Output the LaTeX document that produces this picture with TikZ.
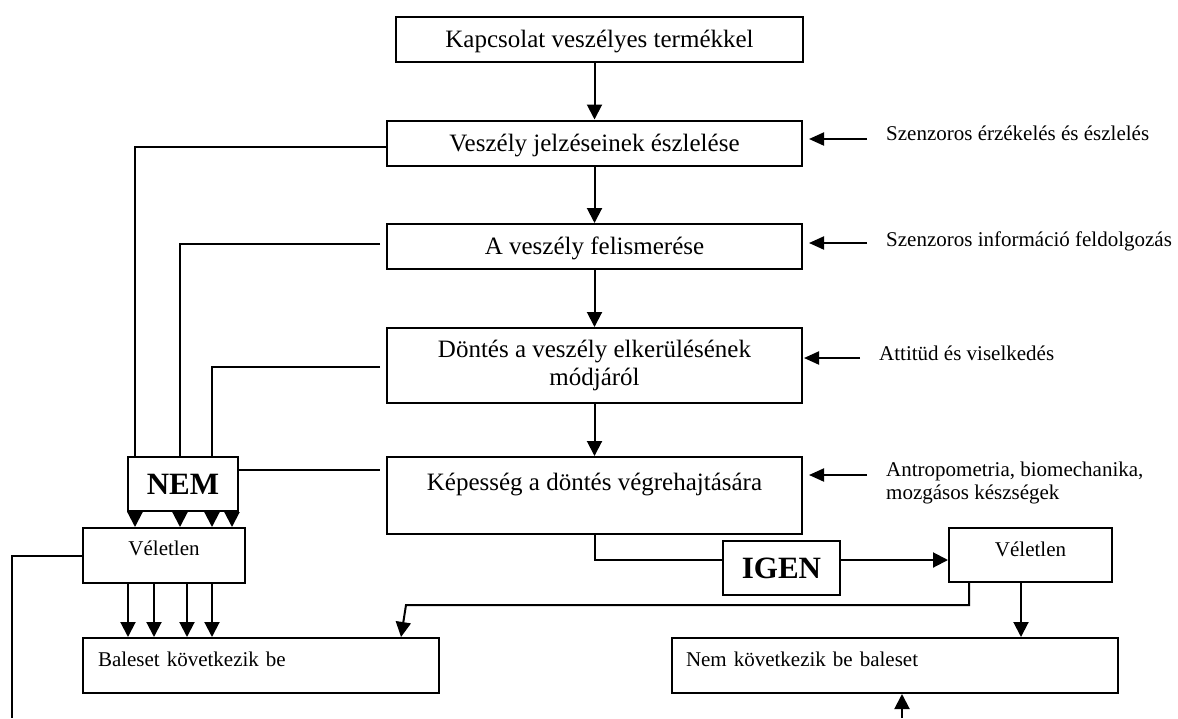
\documentclass[tikz,border=0pt]{standalone}
\usepackage{fontspec}
\setmainfont{Liberation Serif}
\usetikzlibrary{arrows.meta}
\newcommand\mainsz{\fontsize{25}{28}\selectfont}
\newcommand\sidesz{\fontsize{21}{23}\selectfont}
\newcommand\boldsz{\fontsize{31}{34}\selectfont\bfseries}

\begin{document}
\begin{tikzpicture}[x=1pt,y=-1pt,
  line/.style={line width=2pt},
  arr/.style={line, -{Triangle[length=15pt,width=15pt]}},
  sidearr/.style={line, -{Triangle[length=15pt,width=13pt]}},
  box/.style={draw, line width=2pt, inner sep=0pt, anchor=north},
  stage/.style={box, font=\mainsz, minimum width=415pt, text height=30.8pt, text depth=14.2pt},
  small/.style={box, font=\sidesz},
  tag/.style={box, font=\boldsz, text height=37.3pt, text depth=16.7pt},
  side/.style={font=\sidesz, anchor=base west, inner sep=0pt, align=left},
]
\useasboundingbox (0,0) rectangle (1178,718);

% main chain of stages
\node[stage, minimum width=407pt] (B1) at (599.5,16) {Kapcsolat veszélyes termékkel};
\node[stage] (B2) at (594.5,119.5) {Veszély jelzéseinek észlelése};
\node[stage] (B3) at (594.5,223) {A veszély felismerése};
\node[box, font=\mainsz, align=center, minimum width=415pt, minimum height=75pt] (B4) at (594.5,327)
  {Döntés a veszély elkerülésének\\módjáról};
\node[box, font=\mainsz, minimum width=415pt, text height=33pt, text depth=44pt] (B5) at (594.5,456)
  {Képesség a döntés végrehajtására};

% decision tags
\node[tag, minimum width=110pt] (NEM) at (183,456) {NEM};
\node[tag, minimum width=117pt] (IGEN) at (781.5,540) {IGEN};

% chance boxes and outcomes
\node[small, minimum width=162pt, text height=27pt, text depth=28pt] (VL) at (164,527) {Véletlen};
\node[small, minimum width=163pt, text height=28pt, text depth=26pt] (VR) at (1030.5,527) {Véletlen};
\node[small, text width=326pt, inner xsep=15pt, align=left, text height=28.5pt, text depth=26.5pt] (BL) at (261,637)
  {Baleset következik be};
\node[small, text width=418pt, inner xsep=14pt, align=left, text height=28pt, text depth=27pt] (NK) at (895,637)
  {Nem következik be baleset};

% influencing factors on the right
\node[side] (S1) at (886,140) {Szenzoros érzékelés és észlelés};
\node[side] (S2) at (886,246.5) {Szenzoros információ feldolgozás};
\node[side] (S3) at (879,360) {Attitüd és viselkedés};
\node[side] (S4) at (886,499) {Antropometria, biomechanika,\\mozgásos készségek};

\coordinate (a1) at (867,139);
\coordinate (a2) at (867,243);
\coordinate (a3) at (860,358);
\coordinate (a4) at (867,475);
\draw[sidearr, shorten >=6pt] (a1) -- (a1 -| B2.east);
\draw[sidearr, shorten >=6pt] (a2) -- (a2 -| B3.east);
\draw[sidearr, shorten >=1pt] (a3) -- (a3 -| B4.east);
\draw[sidearr, shorten >=6pt] (a4) -- (a4 -| B5.east);

% downward flow
\draw[arr] (B1.south -| B2.north) -- (B2.north);
\draw[arr] (B2.south) -- (B3.north);
\draw[arr] (B3.south) -- (B4.north);
\draw[arr] (B4.south) -- (B5.north);

% failure branches collected in NEM
\draw[line] ([yshift=-4pt]B2.west) -| ([xshift=-48pt]NEM.north);
\draw[line, shorten <=6pt] ([yshift=2.5pt]B3.west) -| ([xshift=-3pt]NEM.north);
\draw[line, shorten <=6pt] ([yshift=-1.5pt]B4.west) -| ([xshift=29pt]NEM.north);
\draw[line, shorten >=6pt] ([yshift=14pt]NEM.east) -- ([yshift=14pt]NEM.east -| B5.west);

\foreach \dx in {-48,-3,29,49}
  \draw[arr] ([xshift=\dx pt]NEM.south) -- ([xshift=\dx pt]NEM.south |- VL.north);
\foreach \dx in {-36,-10,23,48}
  \draw[arr] ([xshift=\dx pt]VL.south) -- ([xshift=\dx pt]VL.south |- BL.north);

\coordinate (lb) at (12,718);
\draw[line] (VL.west) -| (lb);

% success branch through IGEN
\draw[line] (B5.south) |- ([yshift=8pt]IGEN.west);
\draw[arr] ([yshift=8pt]IGEN.east) -- ([yshift=8pt]IGEN.east -| VR.west);
\draw[arr] ([xshift=-9.5pt]VR.south) -- ([xshift=-9.5pt]VR.south |- NK.north);
\coordinate (bend) at (406,605);
\draw[arr] ([xshift=-61.5pt]VR.south) |- (bend) -- ([xshift=140pt]BL.north);

\coordinate (rb) at (902,718);
\draw[arr] (rb) -- (rb |- NK.south);
\end{tikzpicture}
\end{document}
